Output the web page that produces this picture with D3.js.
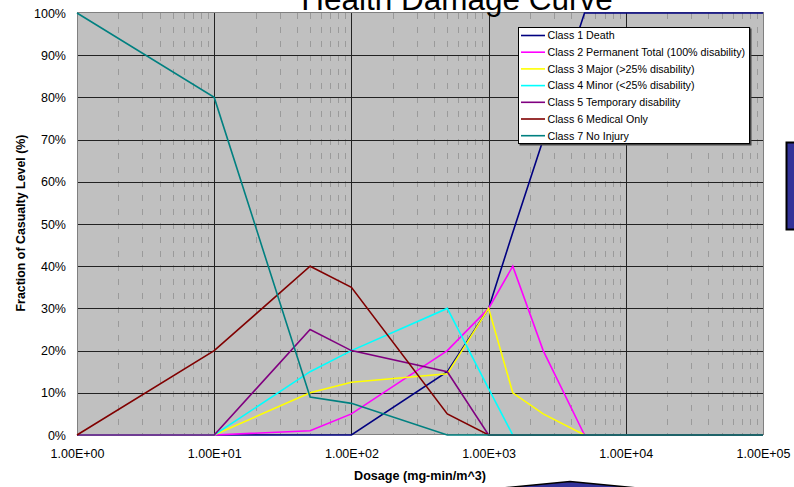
<!DOCTYPE html>
<html><head><meta charset="utf-8">
<script src="https://cdn.jsdelivr.net/npm/d3@7"></script>
<style>body{margin:0;background:#fff}svg{display:block}</style>
</head><body>
<svg id="c" width="794" height="487"></svg>
<script>
const dosage = [1, 10, 50, 100, 500, 1000, 1500, 2500, 5000, 100000];
const seriesNames = [
  "Class 1 Death",
  "Class 2 Permanent Total (100% disability)",
  "Class 3 Major (>25% disability)",
  "Class 4 Minor (<25% disability)",
  "Class 5 Temporary disability",
  "Class 6 Medical Only",
  "Class 7 No Injury"
];
const death      = [0, 0, 0, 0, 15, 30, 48, 70, 100, 100];
const permanent  = [0, 0, 1, 5, 20, 30, 40, 20, 0, 0];
const major      = [0, 0, 10, 12.5, 14.5, 30, 10, 5, 0, 0];
const minor      = [0, 0, 15, 20, 30, 11, 0, 0, 0, 0];
const temporary  = [0, 0, 25, 20, 15, 0, 0, 0, 0, 0];
const medical    = [0, 20, 40, 35, 5, 0, 0, 0, 0, 0];
const noInjury   = [100, 80, 9, 7.5, 0, 0, 0, 0, 0, 0];
const seriesValues = [death, permanent, major, minor, temporary, medical, noInjury];
const colors = ["#000080", "#FF00FF", "#FFFF00", "#00FFFF", "#800080", "#800000", "#008080"];
const xTicks = [1, 10, 100, 1000, 10000, 100000];
const xTickLabels = ["1.00E+00", "1.00E+01", "1.00E+02", "1.00E+03", "1.00E+04", "1.00E+05"];
const yTicks = [0, 10, 20, 30, 40, 50, 60, 70, 80, 90, 100];
const title = "Health Damage Curve";
const xTitle = "Dosage (mg-min/m^3)";
const yTitle = "Fraction of Casualty Level (%)";

const svg = d3.select("#c");
const L = 77, R = 763, T = 13, B = 435;
const x = d3.scaleLog().domain([1, 100000]).range([L, R]);
const y = d3.scaleLinear().domain([0, 100]).range([B, T]);
const font = "Arial, 'Liberation Sans', sans-serif";

// plot background
svg.append("rect").attr("x", L).attr("y", T).attr("width", R - L).attr("height", B - T)
  .attr("fill", "#C0C0C0");

// minor vertical grid
const minors = [];
for (let d = 1; d < 100000; d *= 10) for (let k = 2; k <= 9; k++) minors.push(d * k);
svg.append("g").selectAll("line").data(minors).join("line")
  .attr("x1", d => Math.round(x(d)) + 0.5).attr("x2", d => Math.round(x(d)) + 0.5)
  .attr("y1", T).attr("y2", B)
  .attr("stroke", "#9a9a9a").attr("stroke-width", 1).attr("stroke-dasharray", "6,8");

// major grid
svg.append("g").selectAll("line").data(yTicks.slice(1, -1)).join("line")
  .attr("x1", L).attr("x2", R)
  .attr("y1", d => Math.round(y(d)) + 0.5).attr("y2", d => Math.round(y(d)) + 0.5)
  .attr("stroke", "#222").attr("stroke-width", 1);
svg.append("g").selectAll("line").data(xTicks.slice(1, -1)).join("line")
  .attr("x1", d => Math.round(x(d)) + 0.5).attr("x2", d => Math.round(x(d)) + 0.5)
  .attr("y1", T).attr("y2", B)
  .attr("stroke", "#222").attr("stroke-width", 1);

// plot border
svg.append("rect").attr("x", L + 0.5).attr("y", T - 0.5).attr("width", R - L).attr("height", B - T)
  .attr("fill", "none").attr("stroke", "#808080").attr("stroke-width", 1);

// axes (labels only)
const xAxis = d3.axisBottom(x).tickValues(xTicks).tickFormat((d, i) => xTickLabels[i]).tickSize(0).tickPadding(14);
const gx = svg.append("g").attr("transform", `translate(0,${B})`).call(xAxis);
gx.select(".domain").remove();
gx.selectAll("text").attr("font-family", font).attr("font-size", 12.5).attr("fill", "#000");

const yAxis = d3.axisLeft(y).tickValues(yTicks).tickFormat(d => d + "%").tickSize(0).tickPadding(11);
const gy = svg.append("g").attr("transform", `translate(${L},0)`).call(yAxis);
gy.select(".domain").remove();
gy.selectAll("text").attr("font-family", font).attr("font-size", 12.5).attr("fill", "#000");

// series lines
const line = d3.line().x((d, i) => x(dosage[i])).y(d => y(d));
svg.append("g").selectAll("path").data(seriesValues).join("path")
  .attr("d", d => line(d)).attr("fill", "none")
  .attr("stroke", (d, i) => colors[i]).attr("stroke-width", 1.6).attr("stroke-linejoin", "miter");

// title
svg.append("text").attr("x", 457).attr("y", 9.5).attr("text-anchor", "middle")
  .attr("font-family", font).attr("font-size", 31.5).attr("fill", "#000").text(title);

// axis titles
svg.append("text").attr("x", 420).attr("y", 480).attr("text-anchor", "middle")
  .attr("font-family", font).attr("font-size", 12.6).attr("font-weight", "bold").text(xTitle);
svg.append("text").attr("transform", "translate(25,223) rotate(-90)").attr("text-anchor", "middle")
  .attr("font-family", font).attr("font-size", 12.4).attr("font-weight", "bold").text(yTitle);

// legend
const lg = svg.append("g");
const lx = 518, ly = 27, lw = 232, lh = 117;
lg.append("rect").attr("x", lx + 1.5).attr("y", ly + 1.5).attr("width", lw).attr("height", lh).attr("fill", "#444");
lg.append("rect").attr("x", lx + 0.5).attr("y", ly + 0.5).attr("width", lw - 1).attr("height", lh - 1)
  .attr("fill", "#fff").attr("stroke", "#000").attr("stroke-width", 1);
const rows = lg.selectAll("g.row").data(seriesNames).join("g").attr("class", "row")
  .attr("transform", (d, i) => `translate(0,${ly + 8.5 + i * 16.7})`);
rows.append("line").attr("x1", lx + 3).attr("x2", lx + 27).attr("y1", 0).attr("y2", 0)
  .attr("stroke", (d, i) => colors[i]).attr("stroke-width", 1.6);
rows.append("text").attr("x", lx + 29.5).attr("y", 3.8).attr("font-family", font).attr("font-size", 10.7)
  .attr("fill", "#000").text(d => d);

// decorative shapes (partially off-canvas)
svg.append("rect").attr("x", 786.5).attr("y", 142.5).attr("width", 20).attr("height", 87)
  .attr("fill", "#333399").attr("stroke", "#000").attr("stroke-width", 2);
svg.append("path").attr("d", "M490,489.2 L570,481.5 L650,489.2 Z")
  .attr("fill", "#333399").attr("stroke", "#000").attr("stroke-width", 1.5);
</script>
</body></html>
